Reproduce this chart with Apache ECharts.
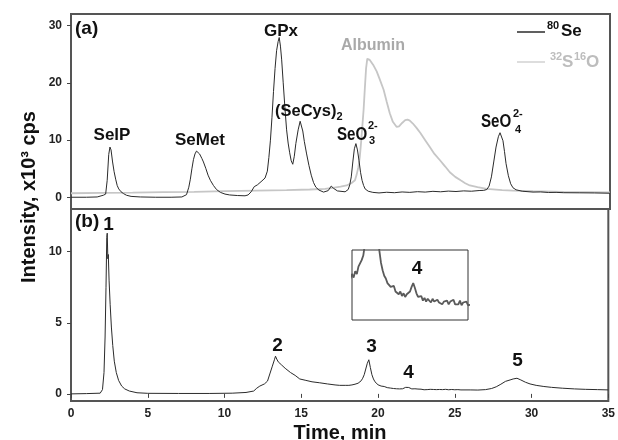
<!DOCTYPE html>
<html>
<head>
<meta charset="utf-8">
<script src="https://cdn.jsdelivr.net/npm/echarts@6/dist/echarts.min.js"></script>
<style>
  html, body { margin: 0; padding: 0; background: #fff; }
  #chart { width: 618px; height: 440px; }
</style>
</head>
<body>
<div id="chart"></div>
<script>
// (a) 80Se trace, time in min, intensity in 10^3 cps
var seTime = [0, 1.0, 1.7, 1.8, 2.1, 2.25, 2.35, 2.45, 2.53, 2.6, 2.7, 2.8, 2.9, 3.0, 3.1, 3.25, 3.4, 3.6, 3.9, 4.5,
    5.5, 6.5, 7.2, 7.5, 7.65, 7.75, 7.85, 7.95, 8.05, 8.15, 8.25, 8.35, 8.5, 8.6, 8.75, 8.9, 9.05, 9.25, 9.45, 9.7,
    10.0, 10.3, 10.8, 11.3, 11.5, 11.7, 11.9, 12.1, 12.4, 12.6, 12.75, 12.85, 12.95, 13.05, 13.15, 13.25, 13.35, 13.45, 13.52, 13.6,
    13.68, 13.78, 13.9, 14.0, 14.1, 14.2, 14.3, 14.4, 14.5, 14.6, 14.75, 14.88, 14.95, 15.05, 15.15, 15.3, 15.45, 15.6, 15.75, 15.9,
    16.1, 16.4, 16.7, 16.9, 17.05, 17.3, 17.8, 18.0, 18.1, 18.2, 18.3, 18.4, 18.5, 18.6, 18.7, 18.8, 18.9, 19.0, 19.1, 19.3,
    19.6, 20.0, 20.5, 21.0, 21.5, 22.0, 22.5, 23.0, 23.5, 24.0, 24.5, 25.0, 25.5, 26.0, 26.5, 26.8, 27.0, 27.15, 27.3, 27.45,
    27.6, 27.75, 27.86, 27.95, 28.05, 28.15, 28.25, 28.4, 28.55, 28.7, 28.9, 29.3, 30, 30.5, 31, 31.5, 32, 33, 34, 35];
var seSignal = [0.05, 0.05, 0.1, 0.35, 0.4, 0.6, 3.0, 7.5, 8.8, 8.3, 6.2, 4.5, 3.2, 2.1, 1.5, 1.0, 0.7, 0.4, 0.2, 0.1,
    0.05, 0.05, 0.1, 0.5, 1.8, 3.2, 5.0, 6.6, 7.6, 8.1, 8.0, 7.6, 6.8, 6.2, 5.1, 3.9, 3.0, 2.1, 1.4, 0.9,
    0.6, 0.45, 0.35, 0.3, 0.45, 1.0, 1.9, 2.2, 2.9, 3.4, 4.6, 7.0, 10.0, 14.0, 18.5, 22.5, 25.6, 27.2, 27.9, 26.4,
    24.0, 20.0, 15.3, 11.8, 9.5, 7.8, 6.4, 5.8, 7.2, 9.4, 11.8, 13.3, 13.0, 11.6, 9.8, 7.6, 5.6, 3.9, 2.6, 1.8,
    1.3, 0.95, 1.2, 2.0, 1.6, 1.15, 1.0, 1.4, 2.2, 3.6, 6.2, 8.5, 9.4, 8.3, 6.5, 4.4, 3.0, 2.1, 1.5, 1.1,
    0.9, 0.8, 0.92, 0.84, 0.97, 0.9, 1.02, 0.95, 1.08, 1.0, 1.12, 1.05, 1.16, 1.1, 1.22, 1.25, 1.4, 2.0, 3.6, 6.2,
    8.8, 10.6, 11.3, 11.0, 9.9, 8.0, 5.9, 3.8, 2.4, 1.7, 1.35, 1.1, 0.95, 0.98, 0.88, 0.9, 0.84, 0.82, 0.8, 0.75];

// (a) 32S16O trace
var soTime = [0, 2, 4, 6, 8, 10, 12, 14, 15.5, 16.5, 17.0, 17.5, 17.9, 18.2, 18.44, 18.55, 18.66, 18.75, 18.83, 18.92,
    19.0, 19.08, 19.16, 19.24, 19.3, 19.4, 19.5, 19.65, 19.85, 20.05, 20.3, 20.5, 20.7, 20.9, 21.15, 21.3, 21.5, 21.7, 21.85, 22.0,
    22.2, 22.45, 22.7, 23.0, 23.3, 23.6, 23.96, 24.3, 24.6, 24.95, 25.3, 25.6, 25.9, 26.4, 27.0, 28, 28.7, 30, 32, 35];
var soSignal = [0.75, 0.8, 0.85, 0.95, 1.0, 1.1, 1.2, 1.3, 1.4, 1.5, 1.7, 1.9, 2.1, 2.5, 3.0, 4.0, 5.3, 7.0, 9.4, 12.5,
    15.3, 19.0, 22.5, 24.2, 24.4, 24.0, 23.7, 23.0, 22.0, 20.6, 18.8, 16.7, 14.7, 13.2, 12.3, 12.4, 13.0, 13.5, 13.6, 13.4,
    12.9, 12.1, 11.2, 10.0, 8.8, 7.6, 6.5, 5.4, 4.4, 3.6, 3.0, 2.5, 2.1, 1.8, 1.5, 1.3, 1.2, 1.1, 1.0, 0.9];

// (b) trace
var bTime = [0, 1.0, 1.9, 2.05, 2.15, 2.22, 2.28, 2.33, 2.36, 2.4, 2.43, 2.48, 2.55, 2.63, 2.72, 2.82, 2.95, 3.1, 3.3, 3.5,
    3.8, 4.3, 5, 7, 9, 10.5, 11.4, 11.9, 12.1, 12.3, 12.6, 12.8, 12.95, 13.1, 13.25, 13.32, 13.4, 13.5, 13.7, 13.95,
    14.3, 14.6, 14.9, 15.3, 15.7, 16.2, 16.7, 17.2, 17.5, 17.9,
    18.0, 18.1, 18.2, 18.3, 18.4, 18.5, 18.6, 18.7, 18.8, 18.9, 19.0, 19.1, 19.2, 19.3, 19.4, 19.5, 19.6, 19.7, 19.8, 19.9,
    20.0, 20.1, 20.2, 20.3, 20.4, 20.5, 20.6, 20.7, 20.8, 20.9, 21.0, 21.1, 21.2, 21.3, 21.4, 21.5, 21.6, 21.7, 21.8, 21.9,
    22.0, 22.1, 22.2, 22.3, 22.4, 22.5, 22.6, 22.7, 22.8, 22.9, 23.0, 23.1, 23.2, 23.3, 23.4, 23.5, 23.6, 23.7, 23.8, 23.9,
    24.0, 24.1, 24.2, 24.3, 24.4, 24.5, 24.6, 24.7, 24.8, 24.9, 25.0, 25.1, 25.2, 25.3, 25.4,
    26.0, 26.5, 27.0, 27.4, 27.7, 28.0, 28.3, 28.6, 28.8, 29.05, 29.3, 29.6, 29.9, 30.3, 30.8, 31.3, 32, 32.8, 33.5, 34.3, 35];
var bSignal = [0, 0.02, 0.05, 0.3, 1.5, 4.0, 7.5, 11.0, 11.3, 9.5, 9.8, 8.0, 6.3, 4.7, 3.4, 2.3, 1.5, 0.95, 0.55, 0.35,
    0.2, 0.08, 0.04, 0.03, 0.03, 0.05, 0.1, 0.2, 0.4, 0.55, 0.7, 0.9, 1.4, 1.9, 2.4, 2.65, 2.45, 2.25, 2.05, 1.8,
    1.5, 1.3, 1.05, 0.95, 0.85, 0.78, 0.7, 0.63, 0.6, 0.6,
    0.55, 0.6, 0.56, 0.63, 0.6, 0.68, 0.66, 0.75, 0.8, 0.92, 1.1, 1.35, 1.75, 2.15, 2.4, 1.85, 1.35, 1.05, 0.85, 0.72,
    0.64, 0.58, 0.55, 0.5, 0.52, 0.46, 0.44, 0.47, 0.41, 0.43, 0.38, 0.41, 0.36, 0.39, 0.35, 0.38, 0.36, 0.41, 0.46, 0.5,
    0.45, 0.39, 0.35, 0.33, 0.36, 0.31, 0.34, 0.3, 0.33, 0.31, 0.29, 0.33, 0.3, 0.28, 0.32, 0.29, 0.31, 0.27, 0.3, 0.28,
    0.31, 0.27, 0.3, 0.28, 0.32, 0.27, 0.29, 0.27, 0.31, 0.26, 0.29, 0.27, 0.3, 0.26, 0.28,
    0.28, 0.27, 0.3, 0.38, 0.5, 0.68, 0.88, 0.98, 1.05, 1.1, 0.98, 0.82, 0.7, 0.6, 0.52, 0.46, 0.4, 0.35, 0.32, 0.3, 0.28];

var timeTicks = [0, 5, 10, 15, 20, 25, 30, 35];
var topTicks = [0, 10, 20, 30];
var bottomTicks = [0, 5, 10];

var chart = echarts.init(document.getElementById('chart'));

function pairs(xs, ys) {
    var out = [];
    for (var i = 0; i < xs.length; i++) {
        out.push([xs[i], ys[i]]);
    }
    return out;
}

var FONT = '"Liberation Sans", Arial, sans-serif';

function txt(text, x, y, size, opts) {
    opts = opts || {};
    return {
        type: 'text',
        x: x,
        y: y,
        rotation: opts.rotation || 0,
        scaleX: opts.scaleX || 1,
        z: 100,
        style: {
            text: text,
            font: 'bold ' + size + 'px ' + FONT,
            fill: opts.fill || '#111',
            align: opts.align || 'center',
            verticalAlign: 'middle'
        }
    };
}

function keyLine(y, color) {
    return {
        type: 'line',
        z: 100,
        shape: { x1: 517, y1: y, x2: 545, y2: y },
        style: { stroke: color, lineWidth: 1.5 }
    };
}

var yLabel = {
    fontFamily: FONT, fontWeight: 'bold', fontSize: 12, color: '#222', margin: 9
};

var option = {
    animation: false,
    backgroundColor: '#fff',
    grid: [
        { left: 71, top: 14, width: 539, height: 195, show: true, borderColor: '#555', borderWidth: 2 },
        { left: 71, top: 209, width: 539, height: 192, show: true, borderColor: '#555', borderWidth: 2 },
        { left: 352, top: 250, width: 116, height: 70, show: true, borderColor: '#333', borderWidth: 1, backgroundColor: '#fff' }
    ],
    xAxis: [
        { type: 'value', gridIndex: 0, min: 0, max: 35, axisLabel: { show: false }, axisTick: { show: false },
          axisLine: { show: false }, splitLine: { show: false } },
        { type: 'value', gridIndex: 1, min: 0, max: 35, interval: 5,
          axisLabel: { fontFamily: FONT, fontWeight: 'bold', fontSize: 12, color: '#222', margin: 7,
                       customValues: timeTicks },
          axisTick: { length: 4, lineStyle: { color: '#444', width: 1 }, customValues: timeTicks },
          axisLine: { show: false }, splitLine: { show: false } },
        { type: 'value', gridIndex: 2, min: 18.1, max: 25.3, show: false, splitLine: { show: false } }
    ],
    yAxis: [
        { type: 'value', gridIndex: 0, min: -2, max: 32,
          axisLabel: Object.assign({ customValues: topTicks }, yLabel),
          axisTick: { show: true, length: 4, lineStyle: { color: '#444', width: 1 }, customValues: topTicks },
          axisLine: { show: false }, splitLine: { show: false } },
        { type: 'value', gridIndex: 1, min: -0.5, max: 13,
          axisLabel: Object.assign({ customValues: bottomTicks }, yLabel),
          axisTick: { show: true, length: 4, lineStyle: { color: '#444', width: 1 }, customValues: bottomTicks },
          axisLine: { show: false }, splitLine: { show: false } },
        { type: 'value', gridIndex: 2, min: 0.1, max: 0.86, show: false, splitLine: { show: false } }
    ],
    series: [
        { name: '32S16O', type: 'line', xAxisIndex: 0, yAxisIndex: 0, data: pairs(soTime, soSignal),
          showSymbol: false, lineStyle: { color: '#c6c6c6', width: 1.8 }, z: 2 },
        { name: '80Se', type: 'line', xAxisIndex: 0, yAxisIndex: 0, data: pairs(seTime, seSignal),
          showSymbol: false, lineStyle: { color: '#2b2b2b', width: 1 }, z: 3 },
        { name: 'b', type: 'line', xAxisIndex: 1, yAxisIndex: 1, data: pairs(bTime, bSignal),
          showSymbol: false, lineStyle: { color: '#2b2b2b', width: 1 }, z: 3 },
        { name: 'inset', type: 'line', xAxisIndex: 2, yAxisIndex: 2, data: pairs(bTime, bSignal),
          showSymbol: false, clip: true, lineStyle: { color: '#5a5a5a', width: 1.8 }, z: 4 }
    ],
    graphic: [
        // axis titles
        txt('Intensity, x10\u00b3 cps', 29, 197, 20, { rotation: Math.PI / 2 }),
        txt('Time, min', 340, 433, 20),
        // panel (a)
        txt('(a)', 75, 29, 19, { align: 'left' }),
        txt('SelP', 112, 135, 17),
        txt('SeMet', 200, 140, 17),
        txt('GPx', 281, 31, 17),
        txt('(SeCys)', 275, 111, 16.5, { align: 'left' }),
        txt('2', 336.5, 117, 11, { align: 'left' }),
        txt('SeO', 337, 135, 18, { align: 'left', scaleX: 0.84 }),
        txt('2-', 368, 126, 11, { align: 'left' }),
        txt('3', 369, 141, 11, { align: 'left' }),
        txt('Albumin', 373, 46, 16, { fill: '#a9a9a9' }),
        txt('SeO', 481, 122, 18, { align: 'left', scaleX: 0.84 }),
        txt('2-', 513, 114, 11, { align: 'left' }),
        txt('4', 515, 130, 11, { align: 'left' }),
        // legend
        keyLine(32, '#2b2b2b'),
        txt('80', 547, 26, 11, { align: 'left' }),
        txt('Se', 561, 31, 17, { align: 'left' }),
        keyLine(62, '#d2d2d2'),
        txt('32', 550, 57, 11, { align: 'left', fill: '#bdbdbd' }),
        txt('S', 562, 62, 17, { align: 'left', fill: '#bdbdbd' }),
        txt('16', 574, 57, 11, { align: 'left', fill: '#bdbdbd' }),
        txt('O', 586, 62, 17, { align: 'left', fill: '#bdbdbd' }),
        // panel (b)
        txt('(b)', 75, 222, 19, { align: 'left' }),
        txt('1', 108.5, 225, 19),
        txt('2', 277.5, 346, 19),
        txt('3', 371.5, 347, 19),
        txt('4', 408.5, 373, 19),
        txt('5', 517.5, 361, 19),
        txt('4', 417, 268.5, 19)
    ]
};

chart.setOption(option);
</script>
</body>
</html>
